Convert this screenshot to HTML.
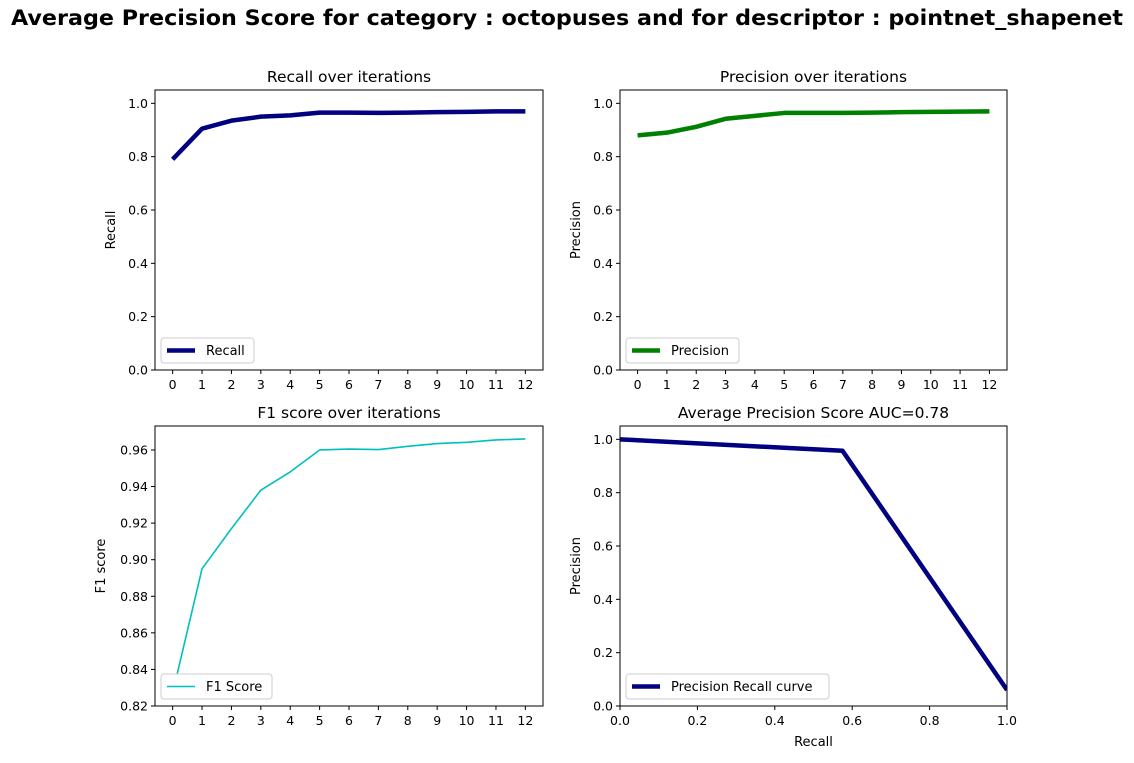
<!DOCTYPE html>
<html><head><meta charset="utf-8"><style>
body{margin:0;background:#fff;font-family:"DejaVu Sans","Liberation Sans",sans-serif}
svg text{font-family:"DejaVu Sans","Liberation Sans",sans-serif}
</style></head><body>
<svg id="fig" width="1134" height="759" xmlns="http://www.w3.org/2000/svg">
<rect width="1134" height="759" fill="#fff"/>
<text x="567" y="25" text-anchor="middle" font-size="21.5" font-weight="bold" textLength="1112" lengthAdjust="spacingAndGlyphs">Average Precision Score for category : octopuses and for descriptor : pointnet_shapenet</text>
</svg>
<script>
const iterations=[0,1,2,3,4,5,6,7,8,9,10,11,12];
const recallValues=[0.79,0.905,0.935,0.95,0.955,0.965,0.965,0.964,0.965,0.967,0.968,0.97,0.97];
const precisionValues=[0.88,0.89,0.912,0.942,0.953,0.964,0.964,0.964,0.965,0.967,0.968,0.969,0.97];
const f1Values=[0.827,0.895,0.917,0.938,0.948,0.960,0.9605,0.9602,0.962,0.9635,0.9642,0.9655,0.966];
const prRecall=[0,0.575,1];
const prPrecision=[1,0.957,0.06];
const unitTicks=[0,0.2,0.4,0.6,0.8,1.0];
const f1Ticks=[0.82,0.84,0.86,0.88,0.90,0.92,0.94,0.96];

const svg=document.getElementById('fig');
const NS='http://www.w3.org/2000/svg';
function mk(tag,attrs,parent){const e=document.createElementNS(NS,tag);for(const k in attrs)e.setAttribute(k,attrs[k]);(parent||svg).appendChild(e);return e;}
function txt(s,attrs,parent){const e=mk('text',Object.assign({'font-size':13},attrs),parent);e.textContent=s;return e;}

function panel(cfg){
  const g=mk('g',{});
  
  
  const {x0,y0,w,h,xmin,xmax,ymin,ymax}=cfg;
  const sx=v=>x0+(v-xmin)/(xmax-xmin)*w;
  const sy=v=>y0+h-(v-ymin)/(ymax-ymin)*h;
  cfg.xticks.forEach((t,i)=>{
    const X=sx(t);
    mk('line',{x1:X,x2:X,y1:y0+h,y2:y0+h+4,stroke:'#000'},g);
    const e=txt(cfg.xlabels[i],{x:X,y:y0+h+19,'text-anchor':'middle','font-size':12.5},g);
    
    
  });
  cfg.yticks.forEach((t,i)=>{
    const Y=sy(t);
    mk('line',{x1:x0-4,x2:x0,y1:Y,y2:Y,stroke:'#000'},g);
    const e=txt(cfg.ylabels[i],{x:x0-7,y:Y+4.5,'text-anchor':'end','font-size':12.5},g);
    
    
  });
  const pts=cfg.xs.map((v,i)=>sx(v)+','+sy(cfg.ys[i])).join(' ');
  const cp=mk('clipPath',{id:'c'+cfg.name},g);
  mk('rect',{x:x0,y:y0,width:w,height:h},cp);
  const pl=mk('polyline',{points:pts,fill:'none',stroke:cfg.color,'stroke-width':cfg.lw,'clip-path':'url(#c'+cfg.name+')','stroke-linejoin':'round'},g);
  
  
  const fr=mk('rect',{x:x0,y:y0,width:w,height:h,fill:'none',stroke:'#000','stroke-width':1},g);
  
  
  const t=txt(cfg.title,{x:x0+w/2,y:y0-8,'text-anchor':'middle','font-size':15.5},g);
  
  
  const yl=txt(cfg.ylabel,{x:0,y:0,'text-anchor':'middle',transform:`translate(${x0-cfg.yoff},${y0+h/2}) rotate(-90)`},g);
  
  
  if(cfg.xlabel){const xl=txt(cfg.xlabel,{x:x0+w/2,y:y0+h+40,'text-anchor':'middle'},g);
    
    }
  const lg=mk('g',{},g);
  
  
  mk('rect',{x:x0+6,y:y0+h-32,width:cfg.legw,height:25,rx:3,fill:'#fff',stroke:'#ccc'},lg);
  mk('line',{x1:x0+12,x2:x0+40,y1:y0+h-19.5,y2:y0+h-19.5,stroke:cfg.color,'stroke-width':cfg.lw},lg);
  txt(cfg.legend,{x:x0+51,y:y0+h-15},lg);
}
const itLabels=iterations.map(String);
const unitLabels=unitTicks.map(v=>v.toFixed(1));
panel({name:'recall-panel',x0:155,y0:90,w:388,h:280,xmin:-0.6,xmax:12.6,ymin:0,ymax:1.05,xticks:iterations,xlabels:itLabels,yticks:unitTicks,ylabels:unitLabels,xs:iterations,ys:recallValues,color:'#000080',lw:4.5,title:'Recall over iterations',ylabel:'Recall',legend:'Recall',legw:93,yoff:40});
panel({name:'precision-panel',x0:620,y0:90,w:387,h:280,xmin:-0.6,xmax:12.6,ymin:0,ymax:1.05,xticks:iterations,xlabels:itLabels,yticks:unitTicks,ylabels:unitLabels,xs:iterations,ys:precisionValues,color:'#008000',lw:4.5,title:'Precision over iterations',ylabel:'Precision',legend:'Precision',legw:113,yoff:40});
panel({name:'f1-panel',x0:155,y0:426,w:388,h:280,xmin:-0.6,xmax:12.6,ymin:0.82,ymax:0.9731,xticks:iterations,xlabels:itLabels,yticks:f1Ticks,ylabels:f1Ticks.map(v=>v.toFixed(2)),xs:iterations,ys:f1Values,color:'#00bfbf',lw:1.6,title:'F1 score over iterations',ylabel:'F1 score',legend:'F1 Score',legw:111,yoff:50});
panel({name:'pr-curve-panel',x0:620,y0:426,w:387,h:280,xmin:0,xmax:1,ymin:0,ymax:1.05,xticks:unitTicks,xlabels:unitLabels,yticks:unitTicks,ylabels:unitLabels,xs:prRecall,ys:prPrecision,color:'#000080',lw:4.5,title:'Average Precision Score AUC=0.78',ylabel:'Precision',xlabel:'Recall',legend:'Precision Recall curve',legw:203,yoff:40});
</script>
</body></html>
